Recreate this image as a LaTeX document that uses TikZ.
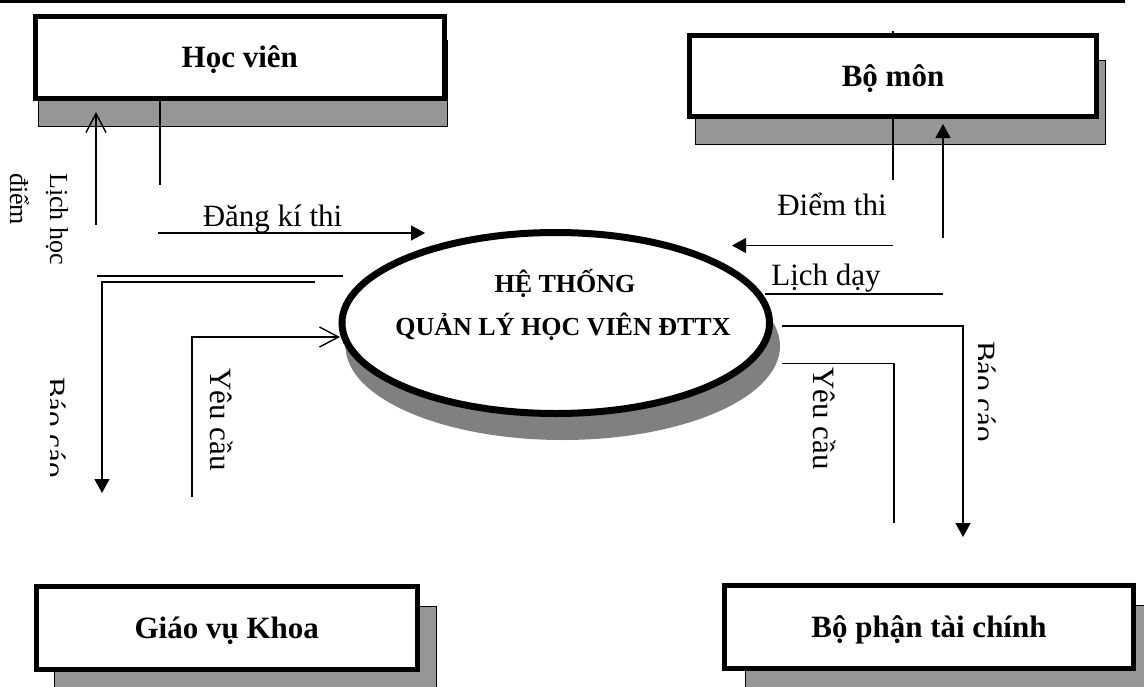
\documentclass[tikz,border=0pt]{standalone}
\usepackage{fontspec}
\setmainfont{Liberation Serif}
\usetikzlibrary{arrows.meta,shapes.geometric}
\definecolor{boxshadow}{RGB}{150,150,150}
\definecolor{ellshadow}{RGB}{128,128,128}
\begin{document}
\begin{tikzpicture}[x=1pt,y=-1pt,
  entity/.style={draw=black,fill=white,line width=5pt,rectangle,inner sep=0pt,
    font=\bfseries\fontsize{31}{36}\selectfont,text height=20.5pt,text depth=0pt},
  shadowbox/.style={draw=black,fill=boxshadow,line width=1pt},
  flow/.style={draw=black,line width=1.4pt},
  tri/.style={-{Triangle[length=14pt,width=15pt]}},
  barb/.style={-{Straight Barb[length=19pt,width=20pt,line width=1.4pt]}},
  flowlbl/.style={font=\fontsize{31}{36}\selectfont,inner sep=0pt,anchor=base},
  vlbl/.style={font=\fontsize{31}{36}\selectfont,inner sep=0pt,rotate=-90,anchor=base west},
  smalllbl/.style={font=\fontsize{26}{30}\selectfont,inner sep=0pt,rotate=-90,anchor=base west},
  systext/.style={font=\bfseries\fontsize{26}{30}\selectfont,inner sep=0pt,anchor=base}]
\useasboundingbox (0,0) rectangle (1144,686);
\clip (0,0) rectangle (1144,686);
% top rule
\draw[line width=3pt] (0,1.5) -- (1125,1.5);
% shadows
\draw[shadowbox] (38,40) rectangle (447,126.5);
\draw[shadowbox] (695,60) rectangle (1105.7,144.3);
\draw[shadowbox] (54.3,606.7) rectangle (436.7,720);
\draw[shadowbox] (745,605) rectangle (1180,720);
\fill[ellshadow] (562.75,346) ellipse [x radius=217.25pt, y radius=94pt];
% free ends of the flows
\coordinate (lhA) at (343,276);
\coordinate (lhB) at (97,276);
\coordinate (lhC) at (96,225);
\coordinate (lhD) at (96,112);
\coordinate (dkA) at (160,185);
\coordinate (dkB) at (158,233);
\coordinate (dkC) at (425,233);
\coordinate (bcA) at (315,282);
\coordinate (bcB) at (102,282);
\coordinate (bcC) at (102,493);
\coordinate (ycA) at (192,497);
\coordinate (ycB) at (192,337);
\coordinate (ycC) at (340,337);
\coordinate (dtA) at (893,31);
\coordinate (dtB) at (893,180);
\coordinate (dtC) at (893,245.5);
\coordinate (dtD) at (732,245.5);
\coordinate (ldA) at (765,294);
\coordinate (ldB) at (943,294);
\coordinate (ldC) at (943,238);
\coordinate (ldD) at (943,124);
\coordinate (brA) at (782,326);
\coordinate (brB) at (963,326);
\coordinate (brC) at (963,537);
\coordinate (yrA) at (894,523);
\coordinate (yrB) at (894,363.5);
\coordinate (yrC) at (782,363.5);
% flows
\draw[flow] (lhA) -- (lhB);
\draw[flow,barb] (lhC) -- (lhD);
\draw[flow] (dkA |- 0,98) -- (dkA);
\draw[flow,tri] (dkB) -- (dkC);
\draw[flow,tri] (bcA) -- (bcB) -- (bcC);
\draw[flow,barb] (ycA) -- (ycB) -- (ycC);
\draw[flow] (dtA) -- (dtB);
\draw[flow,tri] (dtC) -- (dtD);
\draw[flow] (ldA) -- (ldB);
\draw[flow,tri] (ldC) -- (ldD);
\draw[flow,tri] (brA) -- (brB) -- (brC);
\draw[flow] (yrA) -- (yrB) -- (yrC);
% entities
\node[entity,minimum width=408.5pt,minimum height=81.5pt] (hv) at (239.75,57.25) {Học viên};
\node[entity,minimum width=407.6pt,minimum height=81pt] (bm) at (893,76.3) {Bộ môn};
\node[entity,minimum width=381.5pt,minimum height=83.5pt] (gvk) at (226.75,627.75) {Giáo vụ Khoa};
\node[entity,minimum width=409pt,minimum height=83pt] (bptc) at (929,627) {Bộ phận tài chính};
% system
\node[ellipse,draw=black,fill=white,line width=7pt,inner sep=0pt,
  minimum width=427.5pt,minimum height=181pt] (sys) at (555.75,323) {};
\node[systext] (sysA) at (565,292) {HỆ THỐNG};
\node[systext] (sysB) at (563,335) {QUẢN LÝ HỌC VIÊN ĐTTX};
% labels
\node[flowlbl] (lDK) at (272.5,226) {Đăng kí thi};
\node[flowlbl] (lDT) at (832,215) {Điểm thi};
\node[flowlbl] (lLD) at (826,285) {Lịch dạy};
\node[smalllbl] (lLH1) at (50,173) {Lịch học};
\node[smalllbl] (lLH2) at (10,173) {điểm};
\node[vlbl] (lYC1) at (210,368) {Yêu cầu};
\node[vlbl] (lYC2) at (813,367) {Yêu cầu};
\begin{scope}
  \clip (50,300) rectangle (90,490);
  \node[vlbl] (lBC1) at (45,377) {Báo cáo};
\end{scope}
\begin{scope}
  \clip (978,300) rectangle (1010,470);
  \node[vlbl] (lBC2) at (974.5,341) {Báo cáo};
\end{scope}
\end{tikzpicture}
\end{document}
